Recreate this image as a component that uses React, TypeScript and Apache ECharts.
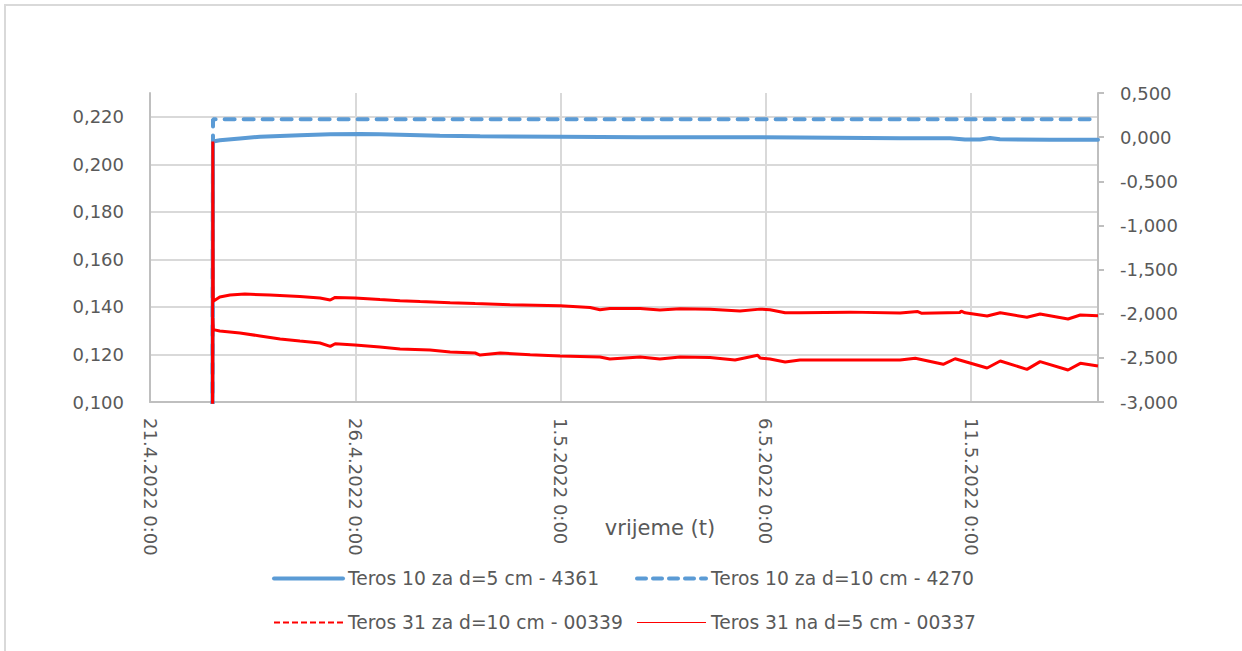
import React, { useEffect, useRef } from "react";
import * as echarts from "echarts";

// ---- data (x = days since 21.4.2022 0:00) ----
const S1 = "Teros 10 za d=5 cm - 4361";
const S2 = "Teros 10 za d=10 cm - 4270";
const S3 = "Teros 31 za d=10 cm - 00339";
const S4 = "Teros 31 na d=5 cm - 00337";

const leftTicks = [0.1, 0.12, 0.14, 0.16, 0.18, 0.2, 0.22];
const rightTicks = [-3, -2.5, -2, -1.5, -1, -0.5, 0, 0.5];

const teros10d5: [number, number][] = [
  [1.52, 0.08], [1.535, 0.2096], [1.7, 0.2101], [2.19, 0.2109], [2.68, 0.2116],
  [3.65, 0.2122], [4.39, 0.2126], [5.12, 0.2128], [5.6, 0.2126], [6.09, 0.2124],
  [7.06, 0.212], [8.04, 0.2118], [9.99, 0.2116], [11.94, 0.2114], [13.4, 0.2114],
  [15.83, 0.2113], [18.27, 0.211], [19.49, 0.211], [19.85, 0.2104], [20.22, 0.2104],
  [20.46, 0.2111], [20.7, 0.2105], [21.92, 0.2103], [23.09, 0.2103],
];

const teros10d10: [number, number][] = [
  [1.52, 0.08], [1.535, 0.219], [23.09, 0.219],
];

const teros31d10: [number, number][] = [
  [1.52, -4.5], [1.53, -0.05], [1.54, -1.86], [1.7, -1.811], [1.95, -1.788],
  [2.31, -1.777], [2.92, -1.788], [3.65, -1.805], [4.14, -1.822], [4.39, -1.845],
  [4.51, -1.815], [4.99, -1.822], [5.6, -1.84], [6.09, -1.852], [6.58, -1.862],
  [7.31, -1.875], [7.92, -1.885], [8.77, -1.898], [9.99, -1.91], [10.72, -1.93],
  [10.96, -1.955], [11.2, -1.94], [11.94, -1.942], [12.42, -1.958], [12.91, -1.945],
  [13.64, -1.95], [14.37, -1.968], [14.86, -1.948], [15.1, -1.955], [15.47, -1.99],
  [15.83, -1.988], [17.05, -1.982], [18.27, -1.992], [18.7, -1.975], [18.8, -1.995],
  [19.73, -1.985], [19.76, -1.97], [19.85, -1.99], [20.39, -2.026], [20.71, -1.99],
  [21.36, -2.04], [21.68, -2.003], [22.36, -2.06], [22.66, -2.015], [23.09, -2.022],
];

const teros31d5: [number, number][] = [
  [1.52, -4.5], [1.53, -2.05], [1.54, -2.18], [1.7, -2.196], [2.19, -2.218],
  [2.68, -2.252], [3.17, -2.286], [3.65, -2.309], [4.14, -2.332], [4.39, -2.37],
  [4.51, -2.34], [4.99, -2.354], [5.6, -2.377], [6.09, -2.4], [6.82, -2.411],
  [7.31, -2.434], [7.92, -2.445], [8.04, -2.468], [8.53, -2.445], [9.26, -2.465],
  [9.99, -2.479], [10.96, -2.49], [11.2, -2.513], [11.94, -2.49], [12.42, -2.513],
  [12.91, -2.49], [13.64, -2.495], [14.25, -2.524], [14.8, -2.47], [14.86, -2.502],
  [15.1, -2.513], [15.47, -2.547], [15.83, -2.524], [17.05, -2.524], [18.27, -2.524],
  [18.64, -2.505], [19.32, -2.573], [19.61, -2.51], [20.39, -2.615], [20.71, -2.536],
  [21.36, -2.63], [21.68, -2.543], [22.36, -2.638], [22.66, -2.562], [23.09, -2.592],
];

const BASE = Date.UTC(2022, 3, 21);
const FONT = "DejaVu Sans";
const GREY = "#595959";
const BLUE = "#5b9bd5";
const RED = "#ff0000";

function fmtDay(d: number): string {
  const dt = new Date(BASE + Math.round(d * 86400000));
  return `${dt.getUTCDate()}.${dt.getUTCMonth() + 1}.${dt.getUTCFullYear()} 0:00`;
}
const fmtNum = (v: number) => v.toFixed(3).replace(".", ",");

export default function App() {
  const ref = useRef<HTMLDivElement>(null);
  useEffect(() => {
    if (!ref.current) return;
    const chart = echarts.init(ref.current, undefined, { renderer: "svg" });
    const legendText = { fontFamily: FONT, fontSize: 18.7, color: GREY };
    const hiddenSymbol = { color: "rgba(0,0,0,0)", borderWidth: 0, opacity: 0 };
    const legendBase = {
      top: 569,
      orient: "vertical",
      itemWidth: 69,
      itemHeight: 14,
      itemGap: 25,
      padding: 0,
      selectedMode: false,
      textStyle: legendText,
      itemStyle: hiddenSymbol,
    };
    chart.setOption({
      animation: false,
      backgroundColor: "#ffffff",
      grid: {
        left: 150,
        right: 144,
        top: 93,
        bottom: 249,
        containLabel: false,
        outerBoundsMode: "none",
      },
      xAxis: {
        type: "value",
        min: 0,
        max: 23.09,
        interval: 5,
        axisLine: { show: true, onZero: false, lineStyle: { color: "#bfbfbf", width: 2 } },
        axisTick: { show: false },
        splitLine: { show: true, lineStyle: { color: "#d9d9d9", width: 2 } },
        axisLabel: {
          rotate: -90,
          margin: 16,
          showMaxLabel: false,
          fontFamily: FONT,
          fontSize: 18,
          color: GREY,
          formatter: (v: number) => fmtDay(v),
        },
      },
      yAxis: [
        {
          type: "value",
          min: leftTicks[0],
          max: 0.23,
          interval: 0.02,
          axisLine: { show: true, lineStyle: { color: "#bfbfbf", width: 2 } },
          axisTick: { show: false },
          splitLine: {
            show: true,
            showMinLine: false,
            showMaxLine: false,
            lineStyle: { color: "#d9d9d9", width: 2 },
          },
          axisLabel: {
            margin: 26,
            showMaxLabel: false,
            fontFamily: FONT,
            fontSize: 18,
            color: GREY,
            formatter: (v: number) => (leftTicks.some((t) => Math.abs(t - v) < 1e-6) ? fmtNum(v) : ""),
          },
        },
        {
          type: "value",
          min: rightTicks[0],
          max: rightTicks[rightTicks.length - 1],
          interval: 0.5,
          position: "right",
          axisLine: { show: true, onZero: false, lineStyle: { color: "#bfbfbf", width: 2 } },
          axisTick: { show: true, length: 6, lineStyle: { color: "#bfbfbf", width: 2 } },
          splitLine: { show: false },
          axisLabel: {
            margin: 22,
            fontFamily: FONT,
            fontSize: 18,
            color: GREY,
            formatter: (v: number) => fmtNum(v),
          },
        },
      ],
      legend: [
        {
          ...legendBase,
          left: 272,
          data: [
            { name: S1, itemStyle: hiddenSymbol, lineStyle: { color: BLUE, width: 4, cap: "round" } },
            { name: S3, itemStyle: hiddenSymbol, lineStyle: { color: RED, type: [6, 3], width: 2 } },
          ],
        },
        {
          ...legendBase,
          left: 635,
          data: [
            { name: S2, itemStyle: hiddenSymbol, lineStyle: { color: BLUE, width: 4, type: [9, 7], cap: "round" } },
            { name: S4, itemStyle: hiddenSymbol, lineStyle: { color: RED, width: 1 } },
          ],
        },
      ],
      graphic: [
        {
          type: "rect",
          shape: { x: 5, y: 5, width: 1300, height: 760 },
          style: { fill: "none", stroke: "#d9d9d9", lineWidth: 2 },
          silent: true,
        },
        {
          type: "text",
          x: 660,
          y: 528,
          style: {
            text: "vrijeme (t)",
            fontFamily: FONT,
            fontSize: 21,
            fill: GREY,
            align: "center",
            verticalAlign: "middle",
          },
          silent: true,
        },
      ],
      series: [
        {
          name: S1,
          type: "line",
          yAxisIndex: 0,
          data: teros10d5,
          symbol: "none",
          lineStyle: { color: BLUE, width: 4, cap: "round" },
          itemStyle: { color: BLUE },
        },
        {
          name: S2,
          type: "line",
          yAxisIndex: 0,
          data: teros10d10,
          symbol: "none",
          lineStyle: { color: BLUE, width: 4, type: [10, 9], cap: "round" },
          itemStyle: { color: BLUE },
        },
        {
          name: S3,
          type: "line",
          yAxisIndex: 1,
          data: teros31d10,
          symbol: "none",
          lineStyle: { color: RED, width: 3 },
          itemStyle: { color: RED },
        },
        {
          name: S4,
          type: "line",
          yAxisIndex: 1,
          data: teros31d5,
          symbol: "none",
          lineStyle: { color: RED, width: 3 },
          itemStyle: { color: RED },
        },
      ],
    });
    return () => chart.dispose();
  }, []);
  return (
    <div
      ref={ref}
      style={{ position: "fixed", left: 0, top: 0, width: 1242, height: 651, background: "#fff" }}
    />
  );
}
